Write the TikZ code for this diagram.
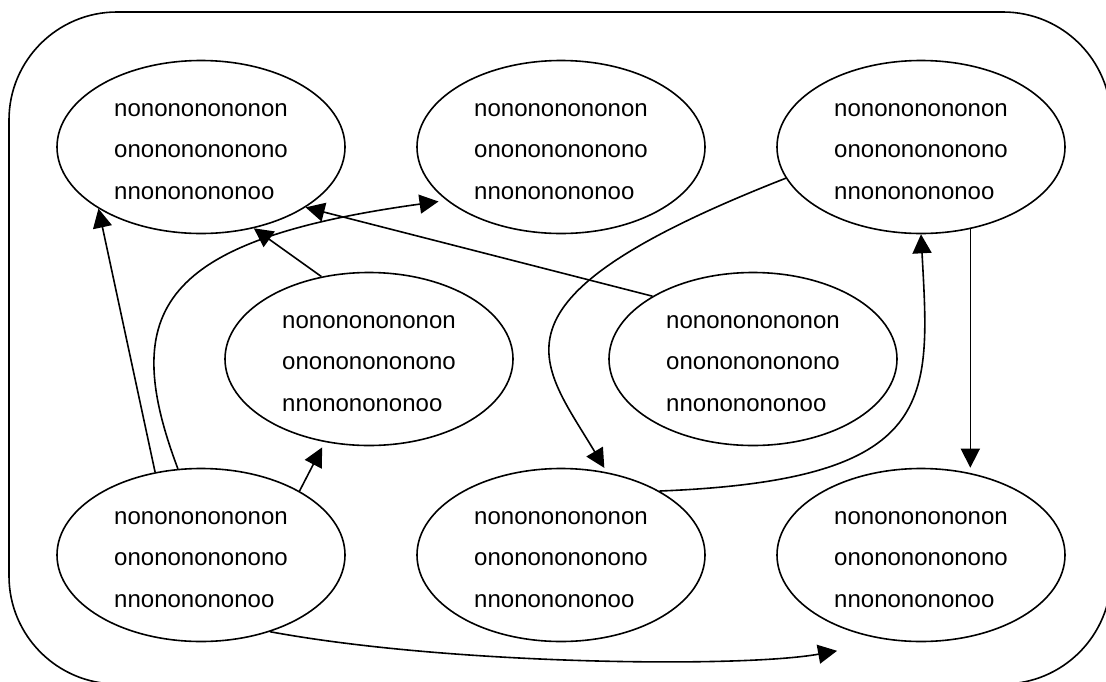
\documentclass[tikz,border=0pt]{standalone}
\usepackage{fontspec}
\setmainfont{Liberation Sans}
\usetikzlibrary{arrows.meta,shapes.geometric}
\tikzset{
  ell/.style={draw, ellipse, line width=1.6pt, minimum width=288pt, minimum height=173pt,
    inner sep=0pt, align=left, font=\fontsize{24}{41.5}\selectfont},
  arr/.style={line width=1.6pt, -{Triangle[length=19pt,width=19pt]}},
  frame/.style={line width=1.6pt, rounded corners=108pt}
}
\newcommand\ntext{\rule{0pt}{21.5pt}nonononononon\\onononononono\\nnononononoo}
\begin{document}
\begin{tikzpicture}[x=1pt,y=-1pt]
\useasboundingbox (0,0) rectangle (1106,681);
\begin{scope}
\clip (0,0) rectangle (1106,681);
\draw[frame] (9,12) rectangle (1111,684);
\end{scope}
\node[ell] (e1) at (201,147) {\ntext};
\node[ell] (e2) at (561,147) {\ntext};
\node[ell] (e3) at (921,147) {\ntext};
\node[ell] (e4) at (369,359) {\ntext};
\node[ell] (e5) at (753,359) {\ntext};
\node[ell] (e6) at (201,555) {\ntext};
\node[ell] (e7) at (561,555) {\ntext};
\node[ell] (e8) at (921,555) {\ntext};
\draw[arr] (e6.119.7) -- (e1.-149);
\draw[arr, shorten >=8pt] (e6.105.4) .. controls (118,310) and (160,240) .. (e2.205.6);
\draw[arr, shorten >=6pt] (e6.33) -- (e4.-118.1);
\draw[arr] (e4.120.9) -- (e1.-57.3);
\draw[arr] (e5.148.9) -- (e1.-30.1);
\draw[arr, shorten >=5pt] (e3.193.3) .. controls (475,300) and (540,360) .. (e7.61.6);
\draw[arr] (e7.33.3) .. controls (940,480) and (930,400) .. (e3.-90.7);
\draw[arr] (e3.-59.7) -- (e3.-59.7 |- e8.north);
\draw[arr, shorten >=57pt] (e6.-48.7) .. controls (450,665) and (742,668) .. (e8.-108.5);
\end{tikzpicture}
\end{document}
